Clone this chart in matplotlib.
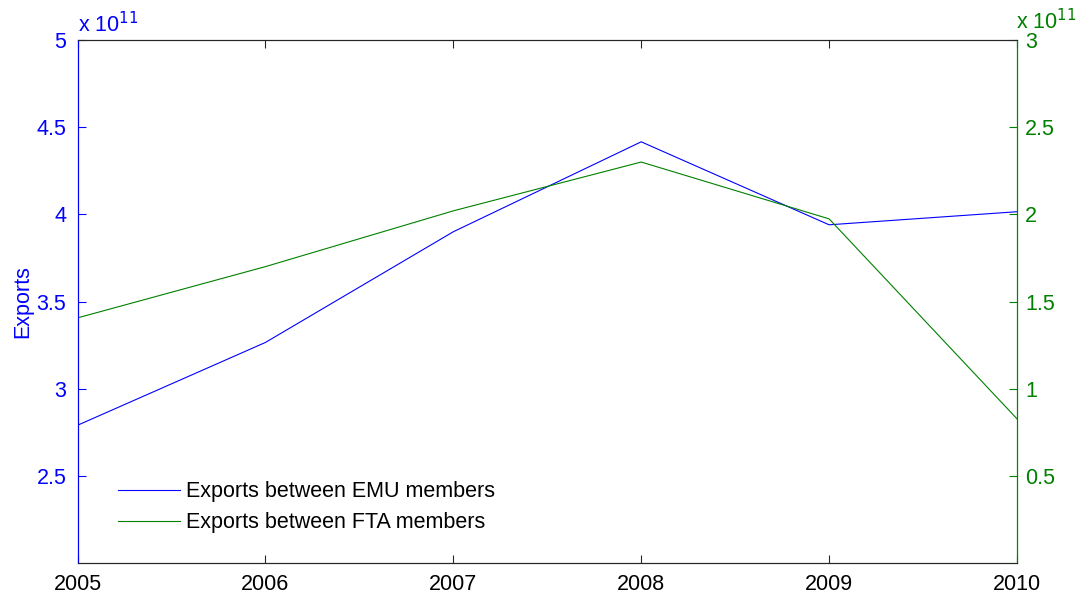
import matplotlib
matplotlib.use("Agg")
import matplotlib.pyplot as plt
from matplotlib.ticker import FuncFormatter

plt.rcParams['font.family'] = ['Liberation Sans', 'DejaVu Sans']

years = [2005, 2006, 2007, 2008, 2009, 2010]
emu_exports = [2.79e11, 3.265e11, 3.90e11, 4.416e11, 3.94e11, 4.015e11]
fta_exports = [1.406e11, 1.70e11, 2.02e11, 2.30e11, 1.974e11, 0.827e11]
left_ticks = [2.5e11, 3.0e11, 3.5e11, 4.0e11, 4.5e11, 5.0e11]
right_ticks = [0.5e11, 1.0e11, 1.5e11, 2.0e11, 2.5e11, 3.0e11]

BLUE = (0, 0, 1)
GREEN = (0, 0.5, 0)
DARK = (0.15, 0.15, 0.15)
FS = 15.5

fig = plt.figure(figsize=(10.78, 5.97), dpi=100)
W, H = 1078, 597
x0, x1, y0, y1 = 77.5, 1017, 40, 563
ax = fig.add_axes([x0 / W, 1 - y1 / H, (x1 - x0) / W, (y1 - y0) / H])
ax2 = ax.twinx()

sci = FuncFormatter(lambda v, p: f"{v / 1e11:g}")

l1, = ax.plot(years, emu_exports, color=BLUE, lw=0.8, label='Exports between EMU members')
l2, = ax2.plot(years, fta_exports, color=GREEN, lw=0.8, label='Exports between FTA members')

ax.set_xlim(2005, 2010)
ax.set_ylim(2e11, 5e11)
ax2.set_ylim(0, 3e11)
ax.set_xticks(years)
ax.set_yticks(left_ticks)
ax2.set_yticks(right_ticks)
ax.yaxis.set_major_formatter(sci)
ax2.yaxis.set_major_formatter(sci)

ax.tick_params(axis='x', direction='in', length=6, top=True, colors=DARK,
               labelcolor='black', labelsize=FS, pad=8)
ax.tick_params(axis='y', direction='in', length=6, colors=BLUE, labelsize=FS, pad=8)
ax2.tick_params(axis='y', direction='in', length=6, colors=GREEN, labelsize=FS, pad=6)

for a in (ax, ax2):
    a.spines['top'].set_color(DARK)
    a.spines['bottom'].set_color(DARK)
    a.spines['left'].set_color(BLUE)
    a.spines['right'].set_color(GREEN)
    for s in a.spines.values():
        s.set_linewidth(0.8)

ax.set_ylabel('Exports', color=BLUE, fontsize=FS, labelpad=2)

fig.text(x0 / W, 1 - 32 / H, r'x 10$^{11}$', color=BLUE, fontsize=FS,
         ha='left', va='baseline')
fig.text(1016 / W, 1 - 29 / H, r'x 10$^{11}$', color=GREEN, fontsize=FS,
         ha='left', va='baseline')

ax.legend(handles=[l1, l2], loc='lower left', bbox_to_anchor=(0.022, 0.02),
          frameon=False, fontsize=FS, handlelength=2.9, handletextpad=0.3,
          labelspacing=0.45)

fig.savefig('out.png', dpi=100)
